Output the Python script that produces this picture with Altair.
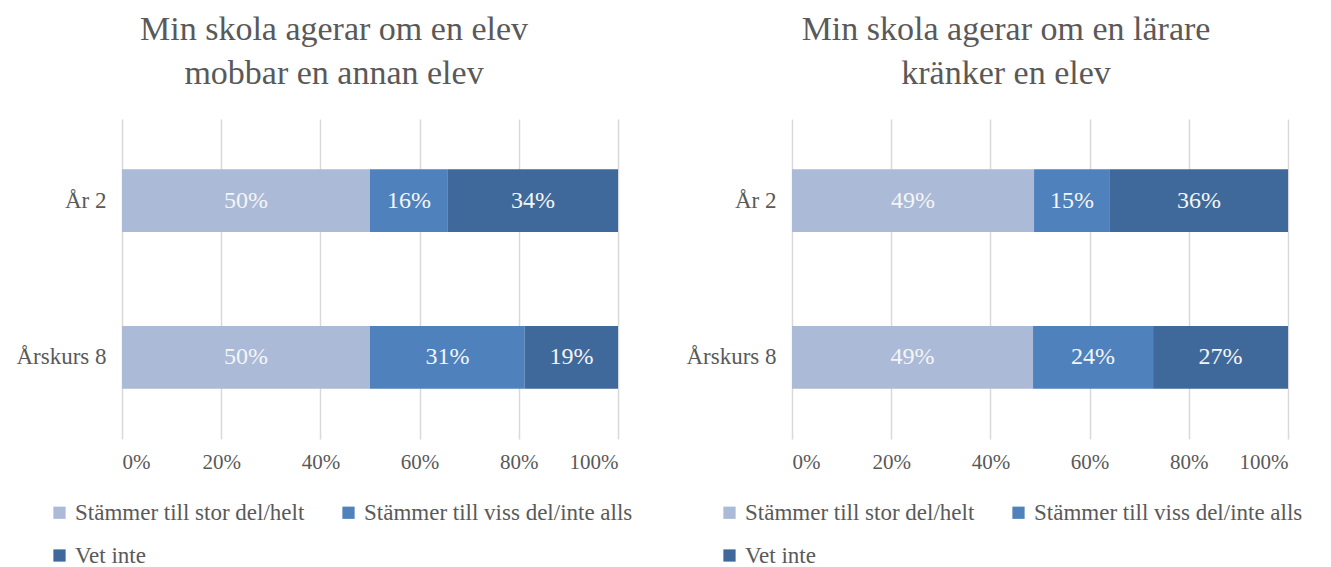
import altair as alt
import pandas as pd

groups = ["År 2", "Årskurs 8"]
categories = ["Stämmer till stor del/helt", "Stämmer till viss del/inte alls", "Vet inte"]
colors = ["#ABBAD7", "#4F81BD", "#3F699B"]

left_ar2 = [0.500, 0.157, 0.343]
left_ak8 = [0.500, 0.312, 0.188]
right_ar2 = [0.488, 0.153, 0.359]
right_ak8 = [0.486, 0.242, 0.272]

left_title = ["Min skola agerar om en elev", "mobbar en annan elev"]
right_title = ["Min skola agerar om en lärare", "kränker en elev"]

FONT = "'Liberation Serif', 'DejaVu Serif', serif"
GRAY = "#595959"


def make_df(ar2, ak8):
    rows = []
    for g, vals in zip(groups, [ar2, ak8]):
        for i, (c, v) in enumerate(zip(categories, vals)):
            rows.append({"group": g, "category": c, "value": v, "order": i})
    return pd.DataFrame(rows)


def panel(df, title, dx):
    base = alt.Chart(df).transform_stack(
        stack="value", groupby=["group"], as_=["x0", "x1"],
        sort=[alt.SortField("order", order="ascending")]
    ).transform_calculate(mid="(datum.x0 + datum.x1) / 2")

    y = alt.Y("group:N", sort=groups, title=None,
              scale=alt.Scale(paddingInner=0.6, paddingOuter=0.32),
              axis=alt.Axis(labelFontSize=23, labelColor=GRAY, labelFont=FONT,
                            labelPadding=16, ticks=False, domain=False,
                            minExtent=109, maxExtent=109))
    bars = base.mark_bar().encode(
        y=y,
        x=alt.X("x0:Q", scale=alt.Scale(domain=[0, 1]), title=None,
                axis=alt.Axis(format=".0%", values=[0, 0.2, 0.4, 0.6, 0.8, 1.0],
                              grid=True, gridColor="#D9D9D9", gridWidth=1.5,
                              ticks=False, domain=False, labelFontSize=21,
                              labelColor=GRAY, labelFont=FONT, labelPadding=12)),
        x2="x1:Q",
        color=alt.Color("category:N", scale=alt.Scale(domain=categories, range=colors),
                        legend=alt.Legend(title=None, orient="none", legendX=-74, legendY=382,
                                          direction="horizontal",
                                          columns=2, symbolType="square", symbolSize=150,
                                          symbolStrokeWidth=0, labelFontSize=23,
                                          labelColor=GRAY, labelFont=FONT,
                                          columnPadding=32, rowPadding=19, labelOffset=4,
                                          labelLimit=400)),
        order=alt.Order("order:Q"),
    )
    text = base.mark_text(color="#F5F5F5", fontSize=24, font=FONT).encode(
        y=alt.Y("group:N", sort=groups),
        x=alt.X("mid:Q"),
        text=alt.Text("value:Q", format=".0%"),
    )
    return alt.layer(bars, text).properties(
        width=496, height=320,
        title=alt.TitleParams(text=title, fontSize=34, font=FONT, color=GRAY,
                              fontWeight="normal", lineHeight=44, offset=28, dx=dx,
                              anchor="middle"),
    )


left = panel(make_df(left_ar2, left_ak8), left_title, -36)
right = panel(make_df(right_ar2, right_ak8), right_title, -34)

chart = alt.hconcat(left, right, spacing=174, bounds="flush").resolve_scale(
    color="independent"
).configure_view(stroke=None)

chart.save("out.html", embed_options={"renderer": "svg", "actions": False})
